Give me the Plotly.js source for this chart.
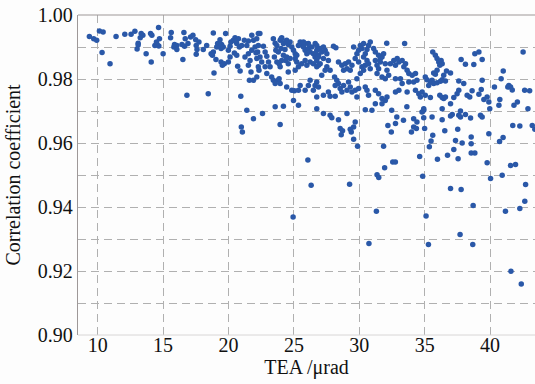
<!DOCTYPE html>
<html>
<head>
<meta charset="utf-8">
<script src="https://cdn.plot.ly/plotly-3.0.1.min.js"></script>
<style>html,body{margin:0;padding:0;background:#fdfdfd;}#chart{width:535px;height:384px;}</style>
</head>
<body>
<div id="chart"></div>
<script>
// TEA (μrad) and correlation coefficient
const TEA = [
9.36,9.69,9.92,10.13,10.41,10.33,10.94,11.40,12.07,12.55,12.84,13.32,13.45,13.25,13.09,13.09,13.01,13.70,14.04,14.14,
14.09,14.65,14.72,14.37,14.54,14.67,14.49,15.00,15.62,15.57,15.87,16.05,15.82,16.05,16.51,16.59,16.69,16.90,17.10,17.28,
17.49,17.53,17.59,17.53,16.44,16.64,16.82,18.45,
17.74,18.07,18.33,18.84,18.67,18.84,18.77,19.04,18.89,19.17,19.27,19.43,19.10,19.35,19.47,19.60,19.78,19.43,19.68,19.53,
19.99,20.12,19.99,20.12,20.19,20.37,20.50,20.63,20.76,20.58,20.83,21.01,20.45,20.63,20.70,20.89,20.94,21.40,21.91,20.98,
21.06,22.60,21.26,21.52,21.65,21.52,21.72,21.91,22.16,21.78,22.03,22.23,22.16,22.28,21.91,22.16,22.28,21.40,21.52,21.78,
21.21,21.60,
22.40,22.28,22.10,22.41,22.54,22.33,22.67,22.80,22.93,23.06,23.18,22.80,22.93,23.30,23.43,23.81,23.87,23.57,23.95,23.43,
23.57,23.70,23.62,23.81,23.95,24.07,24.20,24.02,24.32,24.20,24.45,24.37,24.57,24.71,23.51,23.70,23.87,24.07,23.95,24.45,
24.57,24.71,24.84,24.97,25.10,25.10,25.22,25.35,25.48,25.60,25.73,25.86,25.99,26.11,26.24,26.37,26.49,26.62,26.75,26.88,
25.86,26.11,25.22,25.35,25.10,25.60,25.86,25.99,26.24,26.49,26.75,26.88,24.57,24.45,25.04,24.84,25.35,25.48,25.86,26.11,
26.24,26.49,26.75,26.62,24.97,25.35,23.57,24.20,23.95,26.07,26.32,29.26,24.94,24.02,24.38,25.73,26.63,
26.75,27.01,26.68,26.88,27.13,27.26,27.39,27.52,27.26,27.64,27.01,26.75,27.52,27.39,27.13,27.77,28.03,28.21,28.11,28.28,
28.16,28.41,28.54,28.67,26.88,26.75,27.26,27.64,27.77,28.16,28.41,28.67,28.93,29.18,29.06,29.31,29.44,28.80,29.18,29.31,
29.06,29.44,28.80,29.57,29.82,29.69,29.95,30.08,30.21,30.33,30.46,30.59,29.95,30.21,30.33,30.46,30.71,30.84,30.08,29.82,
30.33,30.59,30.71,30.84,31.10,31.23,32.10,33.47,31.23,31.36,31.48,31.61,31.74,31.86,31.99,32.12,32.25,31.36,31.74,31.99,
31.48,31.61,32.38,32.64,32.77,32.90,33.03,33.28,33.41,33.54,33.66,33.79,34.05,34.30,33.15,32.77,33.28,33.79,34.16,34.41,
29.69,29.95,29.82,30.46,30.59,30.71,31.23,31.48,31.74,31.99,32.12,32.77,33.03,33.66,34.30,34.55,34.81,26.75,27.26,27.77,
27.90,28.41,29.06,29.69,28.54,29.57,30.46,30.97,31.23,31.74,32.48,32.87,33.38,33.64,32.77,34.16,34.41,34.93,
28.72,28.62,29.31,29.39,29.57,29.87,32.19,32.45,31.86,31.94,32.56,32.76,31.36,31.49,31.31,33.99,34.16,34.37,35.00,34.62,
34.85,35.11,35.36,35.49,35.62,35.98,36.54,36.75,36.98,37.23,37.36,37.56,37.53,37.79,37.87,38.56,38.56,38.56,38.84,38.71,
39.78,40.04,39.91,40.73,41.00,40.93,41.18,41.57,41.95,42.28,42.66,42.72,43.43,42.28,41.74,43.23,
30.74,35.29,37.71,38.68,41.60,42.39,
35.62,35.82,35.95,36.08,36.26,36.34,36.16,35.95,35.69,35.82,35.05,35.18,35.44,35.57,35.31,35.69,35.95,36.21,36.34,36.59,
36.46,36.67,36.98,37.79,38.12,38.76,38.84,39.15,39.40,42.53,37.61,37.99,39.40,41.01,40.85,40.34,41.44,41.57,41.36,41.70,
42.65,43.03,34.67,35.05,35.44,36.16,36.34,36.46,36.59,36.98,37.23,37.48,37.61,38.25,38.45,38.63,39.15,39.33,39.53,39.78,
39.91,40.75,40.68,41.83,42.09,42.90,34.93,34.80,34.93,35.57,36.34,36.34,36.98,37.11,37.61,37.74,37.74,38.12,38.51,39.27,
39.40,39.98
];
const CORR = [
0.9933,0.9926,0.9921,0.9950,0.9947,0.9883,0.9848,0.9933,0.9940,0.9940,0.9949,0.9942,0.9937,0.9929,0.9912,0.9906,0.9894,0.9879,0.9942,0.9937,
0.9853,0.9961,0.9926,0.9905,0.9908,0.9903,0.9916,0.9879,0.9945,0.9929,0.9908,0.9905,0.9900,0.9892,0.9861,0.9945,0.9926,0.9911,0.9931,0.9937,
0.9923,0.9905,0.9892,0.9877,0.9908,0.9902,0.9749,0.9754,
0.9916,0.9892,0.9905,0.9944,0.9879,0.9884,0.9874,0.9861,0.9819,0.9911,0.9902,0.9895,0.9900,0.9923,0.9908,0.9900,0.9942,0.9853,0.9848,0.9843,
0.9853,0.9869,0.9890,0.9902,0.9916,0.9921,0.9929,0.9911,0.9926,0.9918,0.9900,0.9905,0.9881,0.9874,0.9840,0.9825,0.9746,0.9702,0.9676,0.9650,
0.9634,0.9692,0.9869,0.9879,0.9858,0.9843,0.9822,0.9796,0.9806,0.9890,0.9900,0.9884,0.9864,0.9838,0.9921,0.9926,0.9942,0.9905,0.9919,0.9937,
0.9921,0.9796,
0.9942,0.9905,0.9882,0.9869,0.9853,0.9827,0.9902,0.9884,0.9871,0.9853,0.9838,0.9838,0.9817,0.9806,0.9796,0.9796,0.9801,0.9786,0.9786,0.9926,
0.9912,0.9905,0.9890,0.9884,0.9921,0.9929,0.9911,0.9895,0.9892,0.9874,0.9869,0.9858,0.9848,0.9864,0.9869,0.9853,0.9848,0.9858,0.9838,0.9921,
0.9908,0.9916,0.9900,0.9890,0.9879,0.9864,0.9874,0.9905,0.9916,0.9911,0.9900,0.9890,0.9879,0.9895,0.9884,0.9900,0.9879,0.9869,0.9890,0.9874,
0.9911,0.9911,0.9853,0.9838,0.9827,0.9848,0.9858,0.9843,0.9853,0.9848,0.9858,0.9843,0.9822,0.9775,0.9763,0.9765,0.9765,0.9780,0.9765,0.9780,
0.9796,0.9765,0.9791,0.9780,0.9733,0.9718,0.9713,0.9715,0.9658,0.9547,0.9468,0.9471,0.9369,0.9926,0.9919,0.9916,0.9911,
0.9905,0.9895,0.9879,0.9869,0.9884,0.9900,0.9890,0.9879,0.9864,0.9858,0.9848,0.9838,0.9838,0.9827,0.9812,0.9827,0.9902,0.9898,0.9806,0.9796,
0.9780,0.9786,0.9770,0.9759,0.9775,0.9744,0.9749,0.9759,0.9746,0.9746,0.9853,0.9843,0.9848,0.9853,0.9832,0.9827,0.9843,0.9827,0.9791,0.9775,
0.9765,0.9759,0.9780,0.9900,0.9879,0.9864,0.9890,0.9905,0.9895,0.9911,0.9879,0.9858,0.9853,0.9838,0.9827,0.9843,0.9848,0.9832,0.9817,0.9801,
0.9869,0.9892,0.9905,0.9916,0.9895,0.9884,0.9912,0.9911,0.9858,0.9843,0.9832,0.9853,0.9869,0.9879,0.9848,0.9827,0.9812,0.9817,0.9806,0.9801,
0.9874,0.9864,0.9848,0.9858,0.9843,0.9864,0.9853,0.9858,0.9838,0.9848,0.9827,0.9817,0.9812,0.9817,0.9801,0.9801,0.9786,0.9791,0.9791,0.9796,
0.9765,0.9770,0.9744,0.9775,0.9765,0.9749,0.9765,0.9754,0.9739,0.9733,0.9744,0.9759,0.9765,0.9759,0.9765,0.9754,0.9759,0.9707,0.9692,0.9687,
0.9679,0.9673,0.9692,0.9666,0.9645,0.9650,0.9704,0.9702,0.9723,0.9723,0.9702,0.9681,0.9671,0.9713,0.9661,0.9676,0.9666,0.9702,
0.9638,0.9626,0.9643,0.9634,0.9612,0.9590,0.9655,0.9634,0.9590,0.9523,0.9541,0.9541,0.9501,0.9492,0.9387,0.9634,0.9650,0.9645,0.9645,0.9558,
0.9496,0.9372,0.9588,0.9606,0.9624,0.9549,0.9638,0.9562,0.9458,0.9580,0.9608,0.9551,0.9643,0.9455,0.9600,0.9619,0.9598,0.9569,0.9569,0.9405,
0.9538,0.9489,0.9629,0.9605,0.9617,0.9499,0.9387,0.9530,0.9533,0.9395,0.9418,0.9470,0.9643,0.9653,0.9655,0.9655,
0.9286,0.9283,0.9314,0.9283,0.9199,0.9159,
0.9884,0.9874,0.9864,0.9853,0.9858,0.9848,0.9843,0.9827,0.9819,0.9815,0.9806,0.9798,0.9791,0.9796,0.9780,0.9786,0.9788,0.9793,0.9798,0.9794,
0.9812,0.9825,0.9819,0.9861,0.9846,0.9845,0.9879,0.9884,0.9861,0.9884,0.9794,0.9786,0.9796,0.9825,0.9801,0.9775,0.9780,0.9775,0.9775,0.9766,
0.9765,0.9763,0.9744,0.9749,0.9742,0.9749,0.9742,0.9739,0.9744,0.9723,0.9742,0.9754,0.9765,0.9749,0.9744,0.9763,0.9752,0.9767,0.9736,0.9744,
0.9728,0.9736,0.9718,0.9718,0.9728,0.9707,0.9707,0.9697,0.9679,0.9681,0.9707,0.9673,0.9684,0.9689,0.9687,0.9700,0.9681,0.9689,0.9678,0.9687,
0.9681,0.9707
];
const X_TICKS = [10, 15, 20, 25, 30, 35, 40];
const Y_TICKS = [0.90, 0.92, 0.94, 0.96, 0.98, 1.00];
const X_TITLE = 'TEA /μrad';
const Y_TITLE = 'Correlation coefficient';

const gridStyle = {gridcolor: '#b0b0b0', griddash: '8px,5px', gridwidth: 1};
const FONT = '"Liberation Serif", "Times New Roman", serif';

const trace = {
  type: 'scatter', mode: 'markers', x: TEA, y: CORR,
  marker: {color: '#2a58a8', size: 5.5, line: {width: 0}},
  hoverinfo: 'skip', showlegend: false
};

const layout = {
  width: 535, height: 384,
  margin: {l: 78, r: 0, t: 15, b: 49},
  paper_bgcolor: '#fdfdfd', plot_bgcolor: '#fdfdfd',
  font: {family: FONT, size: 20, color: '#111'},
  xaxis: Object.assign({
    range: [8.49, 43.44], tickmode: 'array', tickvals: X_TICKS, ticktext: X_TICKS.map(String),
    showgrid: true, zeroline: false, showline: false, ticks: '', ticklabelstandoff: -4,
    tickfont: {family: FONT, size: 20, color: '#111'},
    title: {text: X_TITLE, font: {family: FONT, size: 20, color: '#111'}, standoff: 4}
  }, gridStyle),
  yaxis: Object.assign({
    range: [0.90, 1.00], tickmode: 'array', tickvals: Y_TICKS, ticktext: Y_TICKS.map(v => v.toFixed(2)),
    showgrid: true, zeroline: false, showline: true, linecolor: '#9e9898', linewidth: 1.2, ticks: '',
    tickfont: {family: FONT, size: 20, color: '#111'},
    minor: Object.assign({dtick: 0.01, tick0: 0.90, showgrid: true, ticks: ''}, gridStyle),
    title: {text: Y_TITLE, font: {family: FONT, size: 20, color: '#111'}, standoff: 11}
  }, gridStyle),
  shapes: [
    {type: 'line', xref: 'paper', yref: 'paper', x0: 0, x1: 1, y0: 1, y1: 1, line: {color: '#9e9898', width: 1.2}},
    {type: 'line', xref: 'paper', yref: 'paper', x0: 0, x1: 1, y0: 0, y1: 0, line: {color: '#d8d6d6', width: 1}}
  ]
};

Plotly.newPlot('chart', [trace], layout, {displayModeBar: false, staticPlot: true});
</script>
</body>
</html>
